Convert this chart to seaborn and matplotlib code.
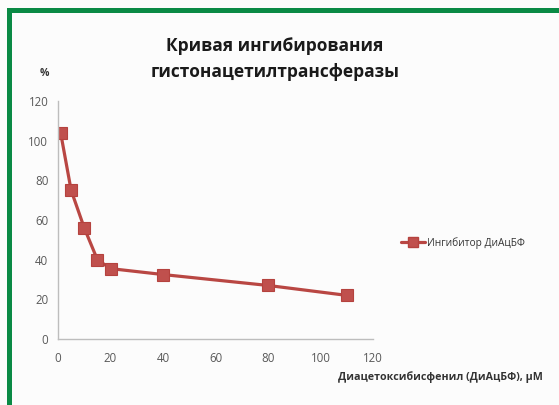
import matplotlib
matplotlib.use("Agg")
import matplotlib.pyplot as plt
import seaborn as sns
import pandas as pd
from matplotlib.patches import Rectangle
from matplotlib.lines import Line2D

# Inhibitor concentration (µM) and remaining enzyme activity (%)
concentration = [1, 5, 10, 15, 20, 40, 80, 110]
activity = [104, 75, 56, 40, 35.5, 32.5, 27, 22]
x_ticks = [0, 20, 40, 60, 80, 100, 120]
y_ticks = [0, 20, 40, 60, 80, 100, 120]

title = "Кривая ингибирования\nгистонацетилтрансферазы"
x_label = "Диацетоксибисфенил (ДиАцБФ), µM"
y_label = "%"
series_name = "Ингибитор ДиАцБФ"

sns.set_theme(style="white")
plt.rcParams["font.family"] = ["Open Sans", "DejaVu Sans"]

df = pd.DataFrame({"conc": concentration, "act": activity})

fig = plt.figure(figsize=(5.59, 4.05), dpi=100)
fig.patch.set_facecolor("#fcfcfc")

# green frame along top and left edges
fig.add_artist(Rectangle((7 / 559, 0), 5 / 559, 1 - 8 / 405, transform=fig.transFigure,
                         color="#0a8a45", lw=0))
fig.add_artist(Rectangle((7 / 559, 1 - 13 / 405), 1, 5 / 405, transform=fig.transFigure,
                         color="#0a8a45", lw=0))

ax = fig.add_axes([58 / 559, 1 - 339 / 405, (373 - 58) / 559, (339 - 101) / 405])
ax.set_facecolor("none")

red = "#c0504d"
sns.lineplot(data=df, x="conc", y="act", ax=ax, color="#b94743", lw=2.3,
             marker="s", markersize=8.5, markerfacecolor=red,
             markeredgecolor="#b5423e", markeredgewidth=0.8, legend=False)

ax.set_xlim(0, 120)
ax.set_ylim(0, 120)
ax.set_xticks(x_ticks)
ax.set_yticks(y_ticks)
ax.set_xlabel("")
ax.set_ylabel("")

for side in ("top", "right"):
    ax.spines[side].set_visible(False)
for side in ("left", "bottom"):
    ax.spines[side].set_color("#bdbdbd")
    ax.spines[side].set_linewidth(1.0)

ax.tick_params(axis="both", which="major", direction="out", length=4, width=1,
               color="#bdbdbd", labelsize=8.3, labelcolor="#595959", pad=3)
ax.tick_params(axis="x", pad=5)

fig.text(275 / 559, 1 - 59 / 405, title, ha="center", va="center",
         fontsize=12.5, fontweight="bold", color="#1a1a1a", linespacing=1.6)
fig.text(44 / 559, 1 - 73 / 405, y_label, ha="center", va="center",
         fontsize=7.5, fontweight="bold", color="#333333")
fig.text(543 / 559, 1 - 377 / 405, x_label, ha="right", va="center",
         fontsize=7.7, fontweight="bold", color="#333333")

handle = Line2D([], [], color="#b94743", lw=2.3, marker="s", markersize=7,
                markerfacecolor=red, markeredgecolor="#b5423e")
fig.legend([handle], [series_name], loc="center left",
           bbox_to_anchor=(392 / 559, 1 - 243 / 405), frameon=False,
           fontsize=7.3, handlelength=2.4, handletextpad=0.2,
           labelcolor="#333333")

fig.savefig("out.png", dpi=100, facecolor=fig.get_facecolor())
